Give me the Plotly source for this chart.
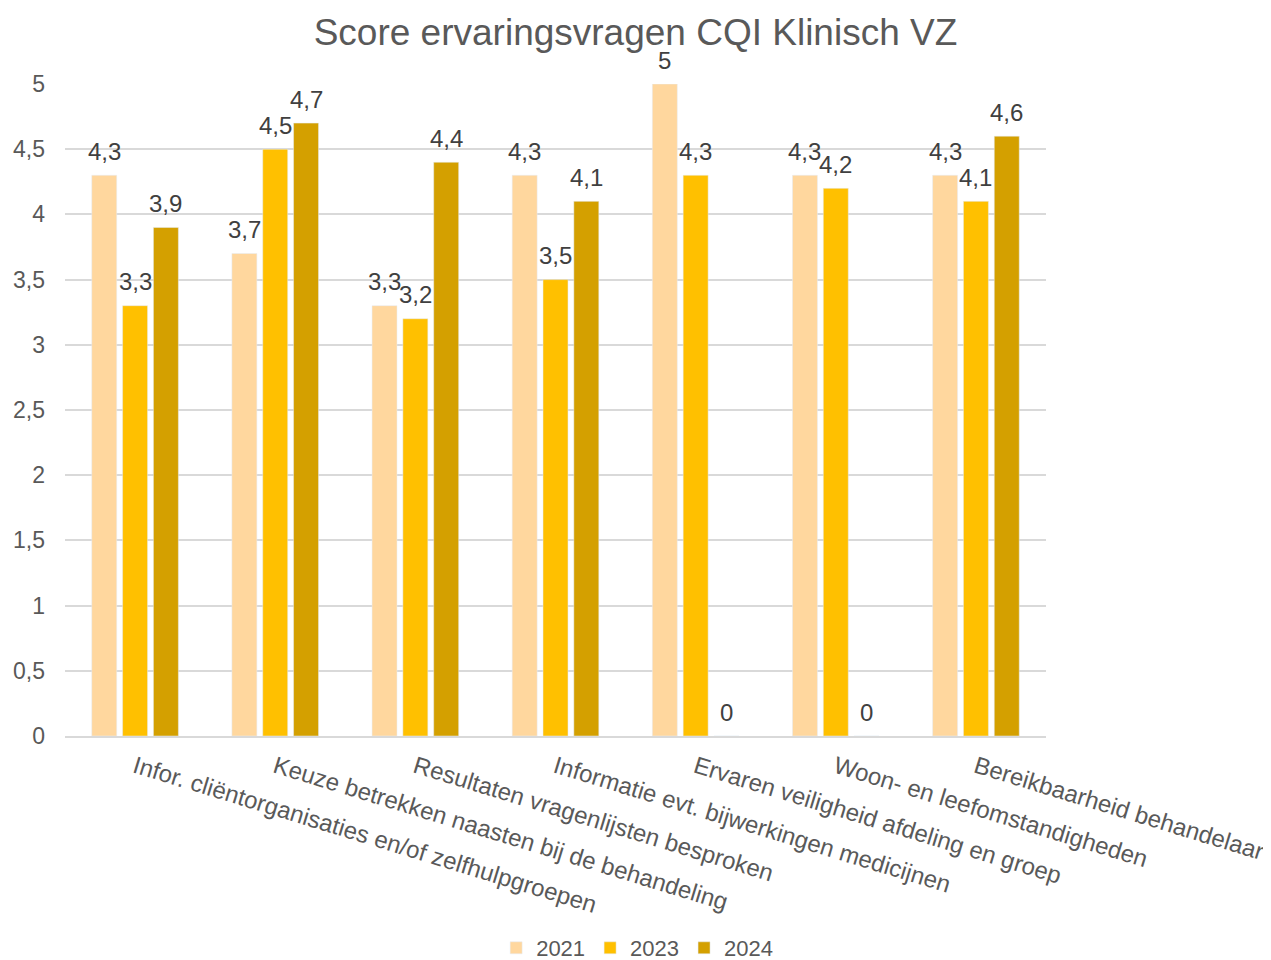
import plotly.graph_objects as go

categories = [
    "Infor. cliëntorganisaties en/of zelfhulpgroepen",
    "Keuze betrekken naasten bij de behandeling",
    "Resultaten vragenlijsten besproken",
    "Informatie evt. bijwerkingen medicijnen",
    "Ervaren veiligheid afdeling en groep",
    "Woon- en leefomstandigheden",
    "Bereikbaarheid behandelaar",
]
years = ["2021", "2023", "2024"]
values_2021 = [4.3, 3.7, 3.3, 4.3, 5, 4.3, 4.3]
values_2023 = [3.3, 4.5, 3.2, 3.5, 4.3, 4.2, 4.1]
values_2024 = [3.9, 4.7, 4.4, 4.1, 0, 0, 4.6]
colors = ["#FFD79E", "#FFC000", "#D4A000"]

FONT = "Liberation Sans, Arial, Helvetica, sans-serif"
W, H = 1271, 960
M = dict(l=57, r=233, t=76, b=232)
BARGAP = 0.34

series = [values_2021, values_2023, values_2024]

fig = go.Figure()
for name, vals, col in zip(years, series, colors):
    fig.add_trace(go.Bar(name=name, x=categories, y=vals, marker_color=col,
                         cliponaxis=False))

# data labels positioned from the bar layout (category width / group slot)
plot_w = W - M["l"] - M["r"]
slot_px = plot_w / len(categories) * (1 - BARGAP) / len(series)
annotations = []
for i, vals in enumerate(series):
    for cat, v in zip(categories, vals):
        annotations.append(dict(
            x=cat, y=v, xref="x", yref="y", text=f"{v:g}".replace(".", ","),
            showarrow=False, xshift=(i - 1) * slot_px, yshift=24, yanchor="middle",
            font=dict(size=24, color="#404040", family=FONT),
        ))

fig.update_layout(
    width=W, height=H,
    separators=",.",
    paper_bgcolor="white", plot_bgcolor="white",
    font=dict(family=FONT, color="#595959", size=22),
    title=dict(text="Score ervaringsvragen CQI Klinisch VZ", x=0.4937, xanchor="center",
               xref="container", yref="container",
               y=1 - 24 / 960, yanchor="middle", font=dict(size=37, color="#595959")),
    margin=M,
    barmode="group", bargap=BARGAP, bargroupgap=0.19,
    annotations=annotations,
    legend=dict(orientation="h", xref="container", yref="container",
                x=0.495, xanchor="center", y=(960 - 940) / 960, yanchor="middle",
                font=dict(size=22, color="#595959"), traceorder="normal"),
    yaxis=dict(range=[0, 5], dtick=0.5, showgrid=True, gridcolor="#D9D9D9", gridwidth=1.5,
               zeroline=False, tickfont=dict(size=23, color="#595959"), ticks="",
               showline=False, automargin=False, ticklabelstandoff=19),
    xaxis=dict(tickangle=17, tickfont=dict(size=24, color="#595959"), showline=True,
               linecolor="#D9D9D9", linewidth=1.5, ticks="", automargin=False,
               ticklabelstandoff=6),
)
fig.write_html("out.html")
